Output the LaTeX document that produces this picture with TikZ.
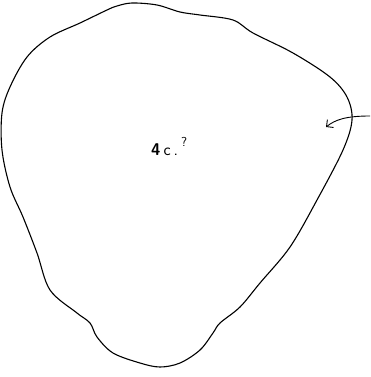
\documentclass[tikz,border=0pt]{standalone}
\usetikzlibrary{arrows.meta}
\begin{document}
\begin{tikzpicture}[x=1pt,y=-1pt,
  outline/.style={line width=1.1pt,line join=round},
  lbl/.style={font=\sffamily\fontsize{17}{17}\selectfont,inner sep=0pt},
  pointer/.style={line width=0.9pt,-{Straight Barb[length=5pt,width=10pt]}}]
\useasboundingbox (0,0) rectangle (370,377);
\draw[outline] plot[smooth cycle,tension=0.55] coordinates {
 (132,3) (117,6) (107,10) (80,23) (50,37) (27,57) (10,87) (2,113) (2,150)
 (10,187) (23,217) (37,253) (50,290) (77,313) (90,323) (97,337) (113,353)
 (140,363) (160,367) (180,363) (200,350) (213,333) (220,323) (240,307)
 (260,283) (290,247) (317,200) (343,150) (352,120) (347,97) (330,77)
 (293,53) (253,33) (233,20) (200,15) (180,12) (157,5)};
\node[lbl,anchor=base west] (t) at (151,155) {\textbf{4}\kern3pt c\kern3pt.\kern3pt\raisebox{9pt}{\fontsize{13}{13}\selectfont ?}};
\coordinate (s) at (370,116);
\coordinate (e) at (326,127);
\draw[pointer] (s) .. controls (345,116) and (335,120) .. (e);
\end{tikzpicture}
\end{document}
